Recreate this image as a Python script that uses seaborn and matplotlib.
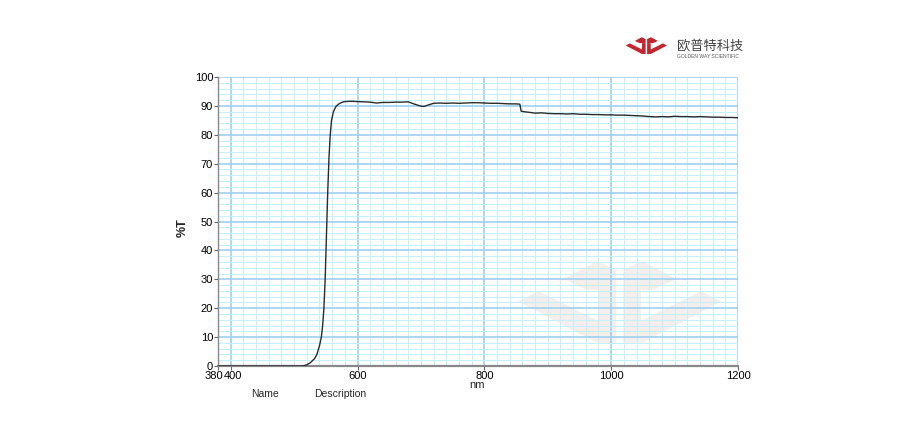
import numpy as np
import pandas as pd
import matplotlib
matplotlib.use("Agg")
import matplotlib.pyplot as plt
import matplotlib.transforms as mtransforms
from matplotlib.patches import Polygon
from matplotlib.ticker import MultipleLocator, FixedLocator
import seaborn as sns

# transmission spectrum
wavelength = [380, 500, 514, 520, 526, 532, 536, 540, 543, 545, 547, 549, 551, 553,
              555, 557, 559, 562, 566, 570, 575, 580, 590, 600, 610, 620, 630, 640,
              650, 660, 670, 680, 690, 700, 705, 710, 720, 730, 740, 750, 760, 770,
              780, 790, 800, 810, 820, 830, 840, 850, 856, 858, 862, 870, 880, 890,
              900, 910, 920, 930, 940, 950, 960, 970, 980, 990, 1000, 1010, 1020,
              1030, 1040, 1050, 1060, 1070, 1080, 1090, 1100, 1110, 1120, 1130, 1140,
              1150, 1160, 1170, 1180, 1190, 1200]
transmit = [0, 0, 0, 0.4, 1.2, 2.5, 4, 7, 10, 14, 20, 30, 45, 60,
            72, 80, 85, 88, 89.8, 90.6, 91.2, 91.5, 91.6, 91.5, 91.4, 91.3, 91.0, 91.2,
            91.2, 91.3, 91.3, 91.4, 90.6, 89.9, 89.8, 90.2, 90.9, 91.0, 90.9, 91.0, 90.9, 91.0,
            91.1, 91.1, 91.0, 90.9, 90.9, 90.8, 90.7, 90.7, 90.6, 88.2, 88.0, 87.8, 87.5, 87.6,
            87.4, 87.3, 87.3, 87.2, 87.3, 87.1, 87.1, 87.0, 87.0, 86.9, 86.9, 86.8, 86.8,
            86.7, 86.6, 86.5, 86.3, 86.2, 86.3, 86.2, 86.4, 86.3, 86.3, 86.2, 86.3,
            86.2, 86.1, 86.1, 86.0, 86.0, 85.9]
x_ticks = [380, 400, 600, 800, 1000, 1200]
y_ticks = list(range(0, 101, 10))

df = pd.DataFrame({"nm": wavelength, "T": transmit})

sns.set_style("white")
plt.rcParams["font.family"] = ["Liberation Sans", "DejaVu Sans"]

W, H = 924, 440
fig = plt.figure(figsize=(W / 100, H / 100), dpi=100)
ax = fig.add_axes([218 / W, 1 - 366 / H, 520 / W, 289 / H])


def fig_pts(pts, ox, oy, s):
    # pixel coords (from a 3x zoom sketch) -> figure fraction
    return [((ox + px * s) / W, 1 - (oy + py * s) / H) for px, py in pts]


# JC mark, left half, mirrored for the right
half_a = [(160, 72), (262, 18), (318, 45), (318, 105), (230, 105)]
half_b = [(265, 105), (318, 105), (318, 265), (265, 265), (25, 140), (85, 108), (265, 198)]
axis_x = 329


def mark(ox, oy, s, color, z):
    for shape in (half_a, half_b):
        for mir in (False, True):
            pts = [(2 * axis_x - px, py) if mir else (px, py) for px, py in shape]
            fig.add_artist(Polygon(fig_pts(pts, ox, oy, s), closed=True,
                                   facecolor=color, edgecolor="none", zorder=z))


# watermark behind the grid
ax.set_zorder(1)
ax.patch.set_alpha(0)
mark(510, 255, 1 / 3, "#f5eeed", 0)
# logo
mark(624, 36, 0.068, "#c4262e", 3)
fig.text(677 / W, 1 - 46 / H, "欧普特科技", fontsize=9.5, color="#444444",
         family=["Noto Sans CJK SC", "DejaVu Sans"], va="center", ha="left")
fig.text(677 / W, 1 - 57 / H, "GOLDEN WAY SCIENTIFIC", fontsize=3.6,
         color="#555555", va="center", ha="left")

sns.lineplot(data=df, x="nm", y="T", ax=ax, color="#2b2b2b", linewidth=1.0,
             zorder=5)

ax.set_xlim(380, 1200)
ax.set_ylim(0, 100)
ax.xaxis.set_major_locator(FixedLocator(x_ticks))
ax.yaxis.set_major_locator(FixedLocator(y_ticks))
ax.xaxis.set_minor_locator(MultipleLocator(20))
ax.yaxis.set_minor_locator(MultipleLocator(2))
ax.set_xticklabels([str(v) for v in x_ticks])
ax.grid(which="minor", color="#c6f0fc", linewidth=0.8)
ax.grid(which="major", color="#9fd0f0", linewidth=1.2)
ax.tick_params(which="major", length=3, width=0.8, color="#666666",
               labelsize=8, labelcolor="black", pad=0.5, bottom=True, left=True)
ax.tick_params(which="minor", length=0)

# 380 and 400 sit side by side as "380400"
lbls = ax.get_xticklabels()
lbls[0].set_transform(lbls[0].get_transform() +
                      mtransforms.ScaledTranslation(-4.5 / 100, 0, fig.dpi_scale_trans))
lbls[1].set_transform(lbls[1].get_transform() +
                      mtransforms.ScaledTranslation(2 / 100, 0, fig.dpi_scale_trans))

for side in ("top", "right"):
    ax.spines[side].set_visible(False)
ax.spines["left"].set_color("#888888")
ax.spines["left"].set_linestyle((0, (2, 1)))
ax.spines["left"].set_linewidth(1.0)
ax.spines["bottom"].set_color("#888888")
ax.spines["bottom"].set_linewidth(1.6)

ax.set_xlabel("")
ax.set_ylabel("")
fig.text(183 / W, 1 - 228 / H, "%T", rotation=90, fontsize=9, fontweight="bold",
         ha="center", va="center")
fig.text(477 / W, 1 - 385 / H, "nm", fontsize=8, ha="center", va="center")
fig.text(265 / W, 1 - 394 / H, "Name", fontsize=7.5, ha="center", va="center")
fig.text(340 / W, 1 - 394 / H, "Description", fontsize=7.5, ha="center", va="center")

fig.savefig("out.png", dpi=100, facecolor="white")
